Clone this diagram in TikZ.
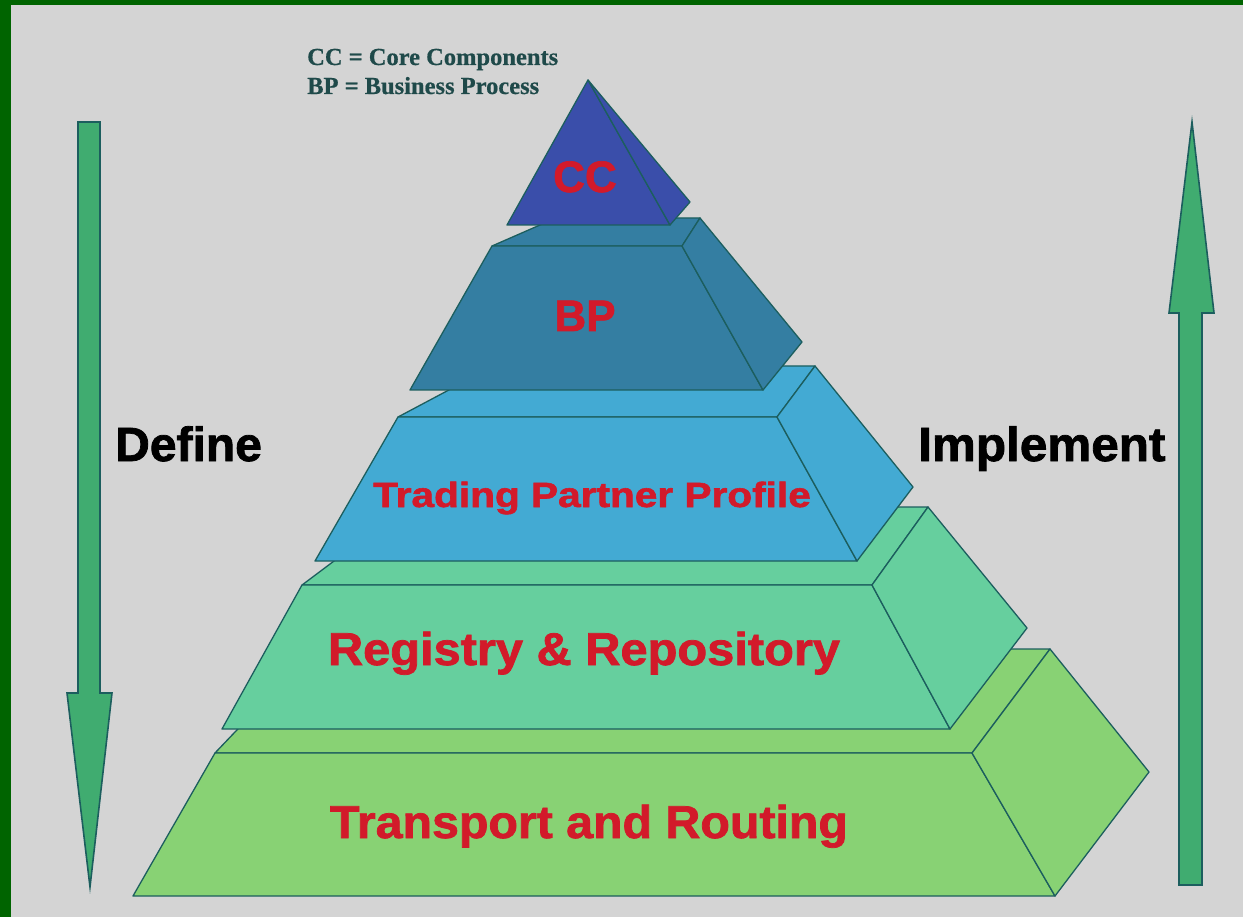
\documentclass[tikz,border=0pt]{standalone}
\usepackage{fontspec}
\setmainfont{Liberation Serif}
\setsansfont{Liberation Sans}
\newfontfamily\heavyfont[FakeBold=1.6]{Liberation Sans Bold}
\newfontfamily\noteserif[FakeBold=0.6]{Liberation Serif Bold}
\definecolor{bgc}{HTML}{D4D4D4}
\definecolor{framec}{HTML}{006400}
\definecolor{ccc}{HTML}{3A4EAA}
\definecolor{bpc}{HTML}{347EA2}
\definecolor{tpc}{HTML}{43AAD3}
\definecolor{rrc}{HTML}{66CF9E}
\definecolor{trc}{HTML}{88D274}
\definecolor{arrc}{HTML}{40AC70}
\definecolor{edgec}{HTML}{1C5E5E}
\definecolor{labc}{HTML}{D21A2A}
\definecolor{notec}{HTML}{1F4A4A}
\newcommand{\hstretch}[2]{\scalebox{#1}[1]{#2}}
\tikzset{
  face/.style={draw=edgec, line width=1.3pt, line join=round},
  arrowshape/.style={draw=edgec, fill=arrc, line width=1.6pt, line join=miter},
  lab/.style={text=labc, inner sep=0pt, anchor=base, font=\heavyfont},
  side/.style={text=black, inner sep=0pt, anchor=base west, font=\heavyfont\fontsize{48}{52}\selectfont},
  notetext/.style={text=notec, inner sep=0pt, anchor=base west, font=\noteserif\fontsize{24.5}{28}\selectfont}
}
\begin{document}
\begin{tikzpicture}[x=1pt,y=-1pt]
\useasboundingbox (0,0) rectangle (1243,917);
% frame and background
\fill[framec] (0,0) rectangle (1243,917);
\fill[bgc] (11,5) rectangle (1243,917);

% Transport and Routing layer
\filldraw[face, fill=trc] (215,753) -- (972,753) -- (1050,649) -- (314,649) -- cycle;
\filldraw[face, fill=trc] (215,753) -- (972,753) -- (1055,896) -- (133,896) -- cycle;
\filldraw[face, fill=trc] (972,753) -- (1050,649) -- (1149,772) -- (1055,896) -- cycle;

% Registry & Repository layer
\filldraw[face, fill=rrc] (302,585) -- (872,585) -- (928,507) -- (406,507) -- cycle;
\filldraw[face, fill=rrc] (302,585) -- (872,585) -- (950,729) -- (222,729) -- cycle;
\filldraw[face, fill=rrc] (872,585) -- (928,507) -- (1027,628) -- (950,729) -- cycle;

% Trading Partner Profile layer
\filldraw[face, fill=tpc] (398,417) -- (777,417) -- (815,366) -- (494,366) -- cycle;
\filldraw[face, fill=tpc] (398,417) -- (777,417) -- (857,561) -- (315,561) -- cycle;
\filldraw[face, fill=tpc] (777,417) -- (815,366) -- (913,487) -- (857,561) -- cycle;

% BP layer
\filldraw[face, fill=bpc] (492,246) -- (682,246) -- (700,218) -- (556,218) -- cycle;
\filldraw[face, fill=bpc] (492,246) -- (682,246) -- (763,390) -- (410,390) -- cycle;
\filldraw[face, fill=bpc] (682,246) -- (700,218) -- (802,342) -- (763,390) -- cycle;

% CC pyramid
\filldraw[face, fill=ccc] (588,80) -- (670,225) -- (507,225) -- cycle;
\filldraw[face, fill=ccc] (588,80) -- (690,202) -- (670,225) -- cycle;

% arrows
\filldraw[arrowshape] (78,122) -- (100,122) -- (100,693) -- (112,693) -- (90,887) -- (67,693) -- (78,693) -- cycle;
\filldraw[arrowshape] (1179,885) -- (1202,885) -- (1202,313) -- (1214,313) -- (1192,122) -- (1169,313) -- (1179,313) -- cycle;

% texts
\node[notetext] (n1) at (307,65) {CC = Core Components};
\node[notetext] (n2) at (307,94) {BP = Business Process};
\node[side] (def) at (115,461) {Define};
\node[side] (imp) at (918,461) {\hstretch{1.03}{Implement}};
\node[lab, font=\heavyfont\fontsize{44}{48}\selectfont] (lcc) at (585,192) {CC};
\node[lab, font=\heavyfont\fontsize{44}{48}\selectfont] (lbp) at (585,331) {BP};
\node[lab, font=\heavyfont\fontsize{35}{40}\selectfont] (ltp) at (592,507) {\hstretch{1.16}{Trading Partner Profile}};
\node[lab, font=\heavyfont\fontsize{46}{50}\selectfont] (lrr) at (584,665) {\hstretch{1.06}{Registry \& Repository}};
\node[lab, font=\heavyfont\fontsize{46}{50}\selectfont] (ltr) at (589,838) {\hstretch{1.05}{Transport and Routing}};
\end{tikzpicture}
\end{document}
